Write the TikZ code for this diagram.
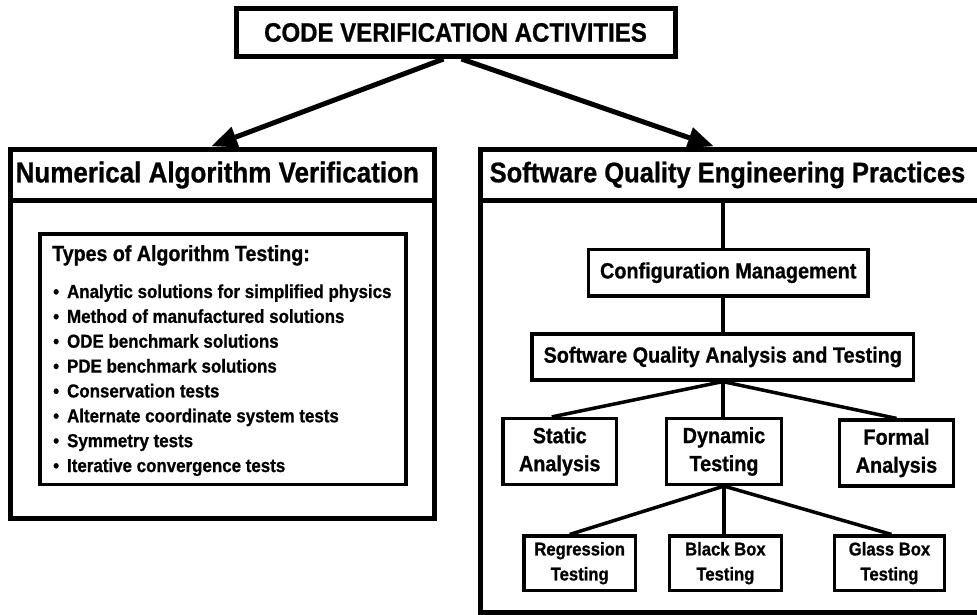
\documentclass[tikz,border=0pt]{standalone}
\usepackage{fontspec}
\setmainfont{Liberation Sans}[FakeStretch=0.9, BoldFeatures={FakeBold=0.8}]
\usetikzlibrary{arrows.meta}
\newcommand\myfs[1]{\fontsize{#1}{#1}\selectfont\bfseries}
\newcommand\myfsb[2]{\fontsize{#1}{#2}\selectfont\bfseries}
\tikzset{
  mainbox/.style={draw, line width=5pt, fill=white, inner sep=0pt},
  subbox/.style={draw, line width=3.2pt, fill=white, inner sep=0pt, align=center},
  conn/.style={line width=3.5pt},
  arr/.style={line width=5pt, -{Triangle[length=25pt,width=22pt,line width=0.1pt]}},
  itemtxt/.style={anchor=base west, inner sep=0pt, font=\myfs{18.8}},
}
\begin{document}
\begin{tikzpicture}[x=1pt,y=-1pt]
\fill[white] (0,0) rectangle (977,615);
\useasboundingbox (0,0) rectangle (977,615);
\begin{scope}
\clip (0,0) rectangle (977,615);
% top box
\node[mainbox, minimum width=439pt, minimum height=48pt, font=\myfs{26.7}] (top) at (455.5,32.5) {CODE VERIFICATION ACTIVITIES};
\coordinate (la) at (212,146);
\coordinate (ra) at (713,146);
\draw[arr] ([xshift=-12pt]top.south) -- (la);
\draw[arr] ([xshift=6pt]top.south) -- (ra);
% left box
\node[mainbox, minimum width=423.5pt, minimum height=318pt] (lbody) at (222.25,359) {};
\node[mainbox, minimum width=423.5pt, minimum height=50pt, font=\myfs{28.9}] (lhead) at (222.25,175) {\hspace*{-10pt}Numerical Algorithm Verification};
\node[subbox, minimum width=366pt, minimum height=250.5pt] (types) at (223,359.25) {};
\node[anchor=base west, inner sep=0pt, font=\myfs{21.8}] (ttl) at (52,261) {Types of Algorithm Testing:};
\foreach \t [count=\i from 0] in {Analytic solutions for simplified physics,
  Method of manufactured solutions,
  ODE benchmark solutions,
  PDE benchmark solutions,
  Conservation tests,
  Alternate coordinate system tests,
  Symmetry tests,
  Iterative convergence tests}{
  \node[itemtxt] (it\i) at (53,298+24.86*\i) {\textbullet\hspace{8pt}\t};
}
% right box
\node[mainbox, minimum width=505pt, minimum height=412pt] (rbody) at (732.5,406) {};
\node[mainbox, minimum width=505pt, minimum height=50pt, font=\myfs{28.3}] (rhead) at (732.5,175) {Software Quality Engineering Practices\hspace*{10pt}};
\node[subbox, minimum width=279.5pt, minimum height=46.5pt, font=\myfs{22}] (cfg) at (728.25,272.75) {Configuration Management};
\node[subbox, minimum width=381.5pt, minimum height=46pt, font=\myfs{22}] (sqat) at (722.75,357) {Software Quality Analysis and Testing};
\node[subbox, minimum width=113.5pt, minimum height=66pt, font={\myfsb{22}{28}}] (static) at (559.75,451.5) {Static\\Analysis};
\node[subbox, minimum width=115pt, minimum height=66pt, font={\myfsb{22}{28}}] (dyn) at (724,451.5) {Dynamic\\Testing};
\node[subbox, minimum width=114pt, minimum height=66pt, font={\myfsb{22}{28}}] (formal) at (896.5,453) {Formal\\Analysis};
\node[subbox, minimum width=111.3pt, minimum height=54.3pt, font={\myfsb{18.5}{25}}] (reg) at (579.7,563.2) {Regression\\Testing};
\node[subbox, minimum width=111.8pt, minimum height=54.3pt, font={\myfsb{18.5}{25}}] (black) at (725.4,563.2) {Black Box\\Testing};
\node[subbox, minimum width=110pt, minimum height=54.3pt, font={\myfsb{18.5}{25}}] (glass) at (889.5,563.2) {Glass Box\\Testing};
% connectors
\draw[conn] (sqat.north |- rhead.south) -- (sqat.north |- cfg.north);
\draw[conn] (sqat.north |- cfg.south) -- (sqat.north);
\draw[conn] (sqat.south) -- ([xshift=-8pt]static.north);
\draw[conn] (sqat.south) -- (sqat.south |- dyn.north);
\draw[conn] (sqat.south) -- (formal.north);
\draw[conn] (dyn.south) -- ([xshift=-10pt]reg.north);
\draw[conn] (dyn.south) -- (dyn.south |- black.north);
\draw[conn] (dyn.south) -- ([xshift=2pt]glass.north);
\end{scope}
\end{tikzpicture}
\end{document}
